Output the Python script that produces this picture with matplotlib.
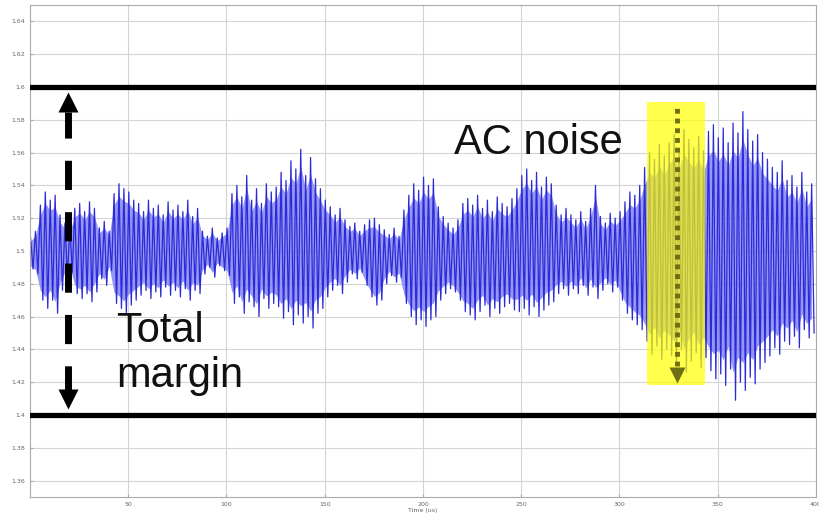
import numpy as np
import matplotlib
matplotlib.use('Agg')
import matplotlib.pyplot as plt
from matplotlib.ticker import FuncFormatter

# peak (hi) and trough (lo) of each ripple cycle, one cycle every 2.5 us
hi = [1.508, 1.512, 1.528, 1.536, 1.531, 1.534, 1.522, 1.517, 1.515, 1.526,
      1.529, 1.524, 1.530, 1.526, 1.514, 1.518, 1.512, 1.535, 1.541, 1.538,
      1.536, 1.531, 1.529, 1.524, 1.531, 1.526, 1.528, 1.522, 1.530, 1.525,
      1.528, 1.524, 1.531, 1.521, 1.526, 1.512, 1.509, 1.514, 1.508, 1.511,
      1.514, 1.535, 1.540, 1.533, 1.546, 1.531, 1.538, 1.529, 1.541, 1.536,
      1.539, 1.548, 1.543, 1.555, 1.550, 1.562, 1.546, 1.557, 1.544, 1.538,
      1.531, 1.527, 1.522, 1.526, 1.519, 1.515, 1.517, 1.512, 1.516, 1.519,
      1.520, 1.516, 1.513, 1.510, 1.514, 1.509, 1.525, 1.534, 1.541, 1.537,
      1.545, 1.540, 1.544, 1.527, 1.521, 1.517, 1.514, 1.519, 1.529, 1.532,
      1.528, 1.534, 1.526, 1.531, 1.524, 1.533, 1.529, 1.527, 1.532, 1.538,
      1.546, 1.550, 1.543, 1.548, 1.539, 1.545, 1.541, 1.528, 1.522, 1.526,
      1.522, 1.519, 1.524, 1.518, 1.526, 1.540, 1.521, 1.517, 1.523, 1.520,
      1.524, 1.530, 1.536, 1.534, 1.540, 1.551, 1.560, 1.556, 1.565, 1.558,
      1.566, 1.571, 1.562, 1.574, 1.568, 1.563, 1.570, 1.561, 1.573, 1.577,
      1.569, 1.575, 1.566, 1.578, 1.572, 1.585, 1.574, 1.567, 1.571, 1.560,
      1.556, 1.551, 1.548, 1.555, 1.543, 1.546, 1.539, 1.548, 1.536, 1.541]
lo = [1.489, 1.486, 1.470, 1.465, 1.470, 1.462, 1.476, 1.484, 1.487, 1.474,
      1.471, 1.474, 1.469, 1.475, 1.483, 1.479, 1.488, 1.468, 1.465, 1.462,
      1.467, 1.470, 1.473, 1.476, 1.471, 1.475, 1.472, 1.478, 1.473, 1.476,
      1.472, 1.477, 1.470, 1.476, 1.474, 1.486, 1.490, 1.484, 1.491, 1.488,
      1.485, 1.468, 1.472, 1.462, 1.469, 1.466, 1.460, 1.471, 1.465, 1.468,
      1.466, 1.459, 1.463, 1.455, 1.461, 1.456, 1.460, 1.453, 1.462, 1.465,
      1.472, 1.476, 1.479, 1.474, 1.481, 1.486, 1.483, 1.487, 1.479, 1.472,
      1.467, 1.470, 1.480, 1.485, 1.481, 1.484, 1.468, 1.460, 1.455, 1.458,
      1.454, 1.458, 1.460, 1.470, 1.474, 1.477, 1.475, 1.470, 1.463, 1.461,
      1.458, 1.463, 1.467, 1.460, 1.465, 1.462, 1.466, 1.468, 1.464, 1.463,
      1.465, 1.461, 1.466, 1.460, 1.464, 1.467, 1.469, 1.474, 1.477, 1.473,
      1.477, 1.474, 1.479, 1.473, 1.478, 1.471, 1.476, 1.480, 1.475, 1.478,
      1.470, 1.462, 1.458, 1.455, 1.452, 1.445, 1.437, 1.442, 1.434, 1.440,
      1.436, 1.431, 1.440, 1.426, 1.433, 1.438, 1.429, 1.435, 1.427, 1.422,
      1.425, 1.418, 1.428, 1.409, 1.420, 1.415, 1.423, 1.419, 1.428, 1.432,
      1.436, 1.441, 1.437, 1.445, 1.443, 1.448, 1.441, 1.452, 1.447, 1.450]

v_max = 1.6
v_min = 1.4
xticks = [50, 100, 150, 200, 250, 300, 350, 400]
yticks = [1.36, 1.38, 1.4, 1.42, 1.44, 1.46, 1.48, 1.5, 1.52, 1.54, 1.56, 1.58, 1.6, 1.62, 1.64]
noise_win = [314, 343.5]   # us, highlighted window
noise_span = [1.418, 1.591]
margin_x = 19.3
noise_x = 329.3

# interleave peaks and troughs
v = np.empty(2 * len(hi))
v[0::2] = hi
v[1::2] = lo
t = np.arange(len(v)) * 1.25 + 0.3

fig = plt.figure(figsize=(8.19, 5.19), dpi=100)
ax = fig.add_axes([0.0366, 0.0424, 0.9597, 0.948])

# lighter blue body of the ripple (a bit inside the spike tips), spikes on top
hi_a = np.array(hi)
lo_a = np.array(lo)
mid = (hi_a + lo_a) / 2
ax.fill_between(t[0::2], mid + 0.8 * (hi_a - mid), mid - 0.8 * (mid - lo_a),
                color='#7c7cf2', alpha=0.8, lw=0, zorder=1.5)
ax.plot(t, v, color='#2a2ad8', lw=0.9, zorder=2)

ax.axhline(v_max, color='black', lw=3.8, zorder=4)
ax.axhline(v_min, color='black', lw=3.8, zorder=4)

# total margin arrow
ax.plot([margin_x, margin_x], [1.412, 1.585], color='black', lw=5,
        dashes=(4.2, 3.2), solid_capstyle='butt', dash_capstyle='butt', zorder=5)
ax.plot(margin_x, 1.591, marker='^', ms=14, color='black', mec='none', zorder=5)
ax.plot(margin_x, 1.4095, marker='v', ms=14, color='black', mec='none', zorder=5)

# AC noise window, translucent yellow over the trace
ax.fill_between(noise_win, noise_span[0], noise_span[1], color='#ffff00',
                alpha=0.7, lw=0, zorder=3)
ax.plot([noise_x, noise_x], [1.43, 1.589], color='#6e6e14', lw=3.5,
        dashes=(1.0, 1.0), zorder=3.5)
ax.plot(noise_x, 1.4245, marker='v', ms=11, color='#6e6e14', mec='none', zorder=3.5)

ax.text(44, 1.4445, 'Total', fontsize=30, family='Liberation Sans', color='#111111', zorder=6)
ax.text(44, 1.417, 'margin', fontsize=30, family='Liberation Sans', color='#111111', zorder=6)
ax.text(216, 1.559, 'AC noise', fontsize=30, family='Liberation Sans', color='#111111', zorder=6)

ax.set_xlim(0, 400)
ax.set_ylim(1.35, 1.65)
ax.set_xticks(xticks)
ax.set_yticks(yticks)
ax.yaxis.set_major_formatter(FuncFormatter(lambda y, p: '%g' % y))
ax.tick_params(labelsize=4.5, labelcolor='#666666', length=2, color='#aaaaaa', direction='in')
ax.grid(True, color='#d4d4d4', lw=0.8)
ax.set_axisbelow(True)
for s in ax.spines.values():
    s.set_color('#aaaaaa')
ax.set_xlabel('Time (us)', fontsize=4.5, color='#666666', labelpad=1)

fig.savefig('out.png', dpi=100)
